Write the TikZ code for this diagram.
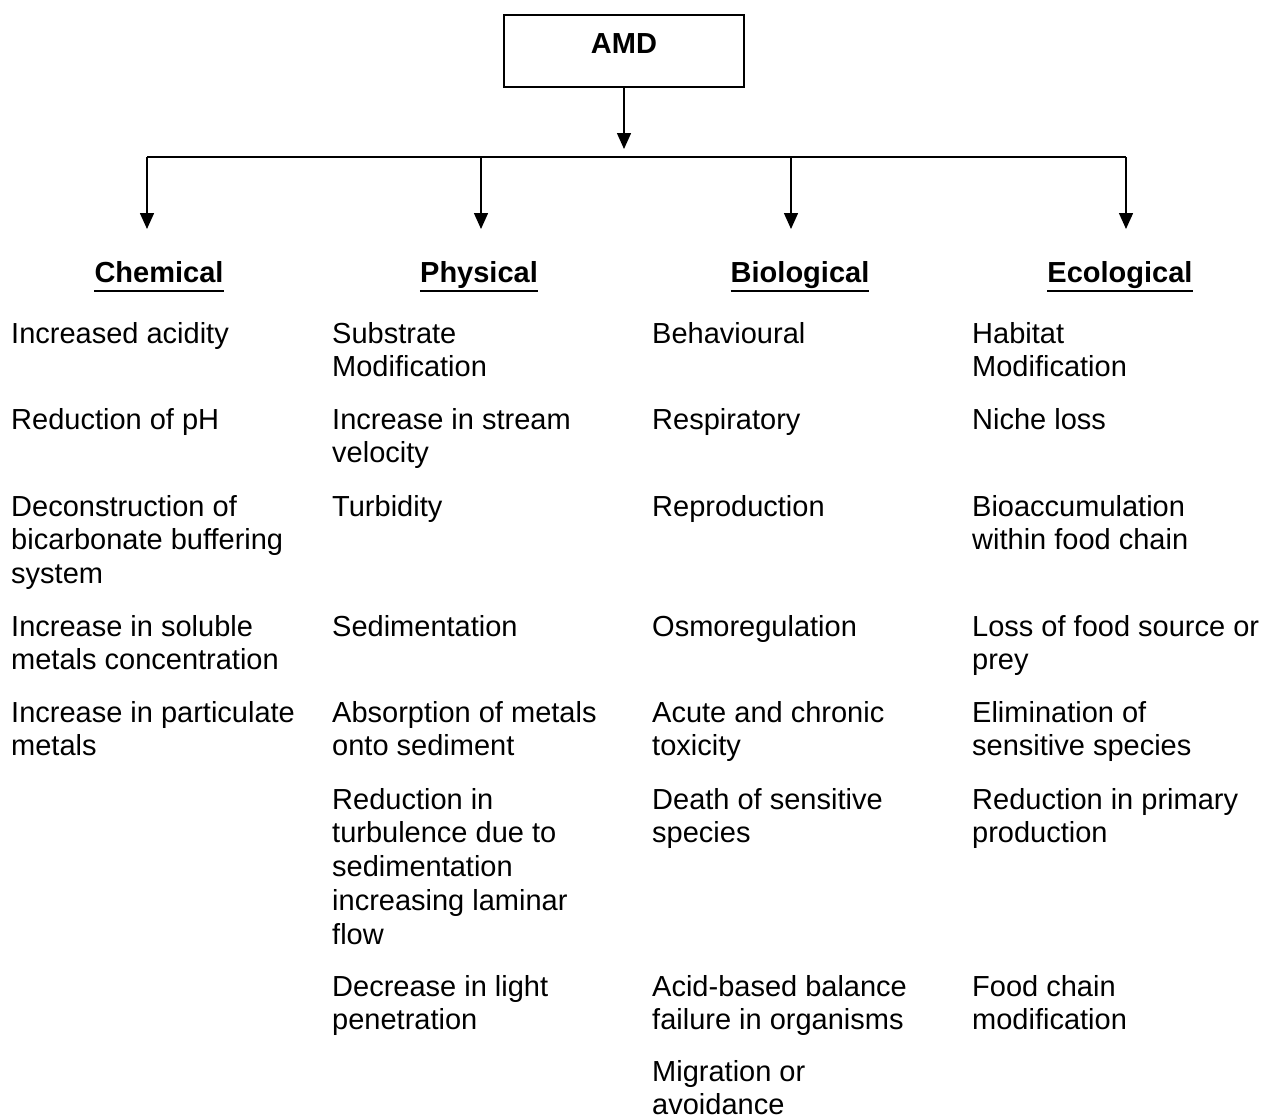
\documentclass[tikz,border=0pt]{standalone}
\usepackage{fontspec}
\setmainfont{Liberation Sans}
\usetikzlibrary{arrows.meta}
% lines of an entry, aligned on the baseline of the first line
\newcommand{\entrylines}[1]{\begin{tabular}[t]{@{}l@{}}#1\end{tabular}}
\begin{document}
\begin{tikzpicture}[x=1pt,y=-1pt,
  txt/.style={font=\fontsize{29}{33.8}\selectfont},
  item/.style={txt, anchor=base west, inner sep=0pt},
  head/.style={txt, anchor=base, inner sep=0pt, font=\fontsize{29}{33.8}\selectfont\bfseries},
  rootbox/.style={draw, line width=1.5pt, anchor=base, inner sep=0pt,
    minimum width=240pt, text height=38pt, text depth=34pt,
    font=\fontsize{29}{33.8}\selectfont\bfseries},
  rule/.style={line width=1.5pt},
  link/.style={rule, -{Triangle[width=14pt,length=16pt]}},
  uline/.style={line width=2pt}
]
\useasboundingbox (0,0) rectangle (1266,1117);

% root and distribution bar
\node[rootbox] (amd) at (624,53) {AMD};
\coordinate (amdtip) at (624,149);
\draw[link] (amd.south) -- (amdtip);

\coordinate (b1) at (147,157);
\coordinate (b2) at (481,157);
\coordinate (b3) at (791,157);
\coordinate (b4) at (1126,157);
\coordinate (t1) at (147,229);
\coordinate (t2) at (481,229);
\coordinate (t3) at (791,229);
\coordinate (t4) at (1126,229);
\draw[rule] (b1) -- (b4);
\foreach \i in {1,...,4} \draw[link] (b\i) -- (t\i);

% column headings
\node[head] (hchem) at (159,282) {Chemical};
\node[head] (hphys) at (479,282) {Physical};
\node[head] (hbio)  at (800,282) {Biological};
\node[head] (heco)  at (1120,282) {Ecological};
\foreach \h in {hchem,hphys,hbio,heco}
  \draw[uline] ([yshift=-9pt]\h.base west) -- ([yshift=-9pt]\h.base east);

% Chemical
\node[item] (c1) at (11,343) {\entrylines{Increased acidity}};
\node[item] (c2) at (11,429) {\entrylines{Reduction of pH}};
\node[item] (c3) at (11,516) {\entrylines{Deconstruction of\\bicarbonate buffering\\system}};
\node[item] (c4) at (11,636) {\entrylines{Increase in soluble\\metals concentration}};
\node[item] (c5) at (11,722) {\entrylines{Increase in particulate\\metals}};

% Physical
\node[item] (p1) at (332,343) {\entrylines{Substrate\\Modification}};
\node[item] (p2) at (332,429) {\entrylines{Increase in stream\\velocity}};
\node[item] (p3) at (332,516) {\entrylines{Turbidity}};
\node[item] (p4) at (332,636) {\entrylines{Sedimentation}};
\node[item] (p5) at (332,722) {\entrylines{Absorption of metals\\onto sediment}};
\node[item] (p6) at (332,809) {\entrylines{Reduction in\\turbulence due to\\sedimentation\\increasing laminar\\flow}};
\node[item] (p7) at (332,996) {\entrylines{Decrease in light\\penetration}};

% Biological
\node[item] (g1) at (652,343) {\entrylines{Behavioural}};
\node[item] (g2) at (652,429) {\entrylines{Respiratory}};
\node[item] (g3) at (652,516) {\entrylines{Reproduction}};
\node[item] (g4) at (652,636) {\entrylines{Osmoregulation}};
\node[item] (g5) at (652,722) {\entrylines{Acute and chronic\\toxicity}};
\node[item] (g6) at (652,809) {\entrylines{Death of sensitive\\species}};
\node[item] (g7) at (652,996) {\entrylines{Acid-based balance\\failure in organisms}};
\node[item] (g8) at (652,1081) {\entrylines{Migration or\\avoidance}};

% Ecological
\node[item] (e1) at (972,343) {\entrylines{Habitat\\Modification}};
\node[item] (e2) at (972,429) {\entrylines{Niche loss}};
\node[item] (e3) at (972,516) {\entrylines{Bioaccumulation\\within food chain}};
\node[item] (e4) at (972,636) {\entrylines{Loss of food source or\\prey}};
\node[item] (e5) at (972,722) {\entrylines{Elimination of\\sensitive species}};
\node[item] (e6) at (972,809) {\entrylines{Reduction in primary\\production}};
\node[item] (e7) at (972,996) {\entrylines{Food chain\\modification}};
\end{tikzpicture}
\end{document}
